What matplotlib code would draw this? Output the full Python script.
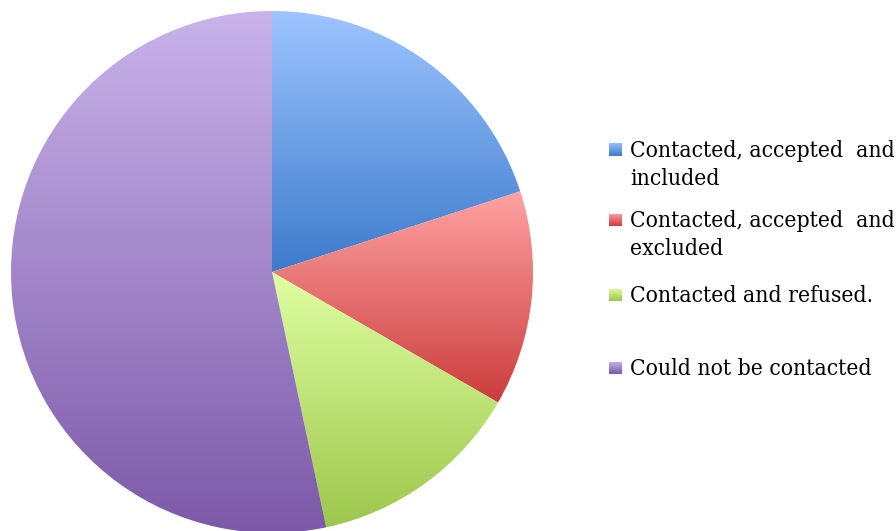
import numpy as np
import matplotlib
matplotlib.use("Agg")
import matplotlib.pyplot as plt
from matplotlib.colors import LinearSegmentedColormap

labels = ["Contacted, accepted  and\nincluded",
          "Contacted, accepted  and\nexcluded",
          "Contacted and refused.",
          "Could not be contacted"]
values = [15, 10, 10, 40]
top_colors = ["#9dc4ff", "#ffa2a2", "#e0ffa2", "#c9b3ea"]
bottom_colors = ["#3d7bcc", "#cc3c3c", "#9cc74c", "#7b59a8"]

W, H = 896, 531
fig = plt.figure(figsize=(W / 100, H / 100), dpi=100)
cx, cy, r = 272, 272, 261
ax = fig.add_axes([(cx - r) / W, (H - cy - r) / H, 2 * r / W, 2 * r / H])
wedges, _ = ax.pie(values, startangle=90, counterclock=False, radius=1,
                   wedgeprops=dict(linewidth=0))
ax.set_aspect("equal")
ax.axis("off")

grad = np.linspace(0, 1, 256).reshape(-1, 1)
for w, tc, bc in zip(wedges, top_colors, bottom_colors):
    v = w.get_path().vertices
    xmin, xmax = v[:, 0].min(), v[:, 0].max()
    ymin, ymax = v[:, 1].min(), v[:, 1].max()
    cmap = LinearSegmentedColormap.from_list("g", [bc, tc])
    w.set_alpha(0.0)
    im = ax.imshow(grad, cmap=cmap, origin="lower", aspect="auto",
                   extent=[xmin, xmax, ymin, ymax], interpolation="bilinear")
    im.set_clip_path(w)
ax.set_xlim(-1, 1)
ax.set_ylim(-1, 1)

# legend
baselines = [157, 227, 302, 375]
line_gap = 28
sq = 13
for lab, base, tc, bc in zip(labels, baselines, top_colors, bottom_colors):
    mcy = base - 7
    max_ = fig.add_axes([609 / W, (H - mcy - sq / 2) / H, sq / W, sq / H])
    max_.imshow(grad, cmap=LinearSegmentedColormap.from_list("m", [bc, tc]),
                origin="lower", aspect="auto", extent=[0, 1, 0, 1])
    max_.axis("off")
    for i, line in enumerate(lab.split("\n")):
        fig.text(630 / W, (H - base - i * line_gap) / H, line, ha="left",
                 va="baseline", fontsize=16.4, family="DejaVu Serif",
                 fontstretch="condensed", color="black")

fig.savefig("out.png", dpi=100)
